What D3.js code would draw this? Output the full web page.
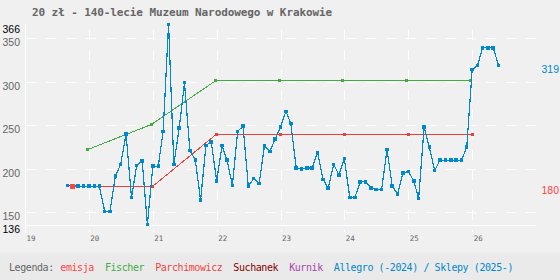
<!DOCTYPE html>
<html lang="pl">
<head>
<meta charset="UTF-8">
<title>20 zł - 140-lecie Muzeum Narodowego w Krakowie</title>
<style>
  body { margin: 0; background: #f0f0f0; }
  svg { display: block; }
  .mono { font-family: "DejaVu Sans Mono", monospace; }
  .sans { font-family: "Liberation Sans", Arial, sans-serif; }
</style>
</head>
<body>
<div id="chart"></div>
<script src="https://cdnjs.cloudflare.com/ajax/libs/d3/7.8.5/d3.min.js"></script>
<script>
const width = 560
const height = 280

const title = '20 zł - 140-lecie Muzeum Narodowego w Krakowie'

// Allegro / sklepy - ceny miesięczne od 2019-09
const allegroStart = '2019-09-01'
const allegro = [181, 181, 180, 180, 180, 180, 180, 151, 151, 192,
  205, 240, 167, 204, 209, 136, 203, 203, 243, 366,
  205, 247, 299, 221, 210, 164, 227, 231, 186, 227,
  210, 181, 243, 249, 180, 189, 183, 226, 220, 234,
  248, 266, 252, 201, 200, 201, 201, 219, 188, 178,
  205, 193, 212, 167, 167, 185, 185, 178, 176, 176,
  222, 180, 171, 195, 197, 186, 166, 248, 225, 198,
  210, 210, 210, 210, 210, 225, 314, 319, 339, 339,
  339, 319]

const emisjaDate = '2019-09-28'
const emisjaValue = 180

const parchDates = ['2019-09-28', '2021-01-01', '2022-01-01', '2023-01-01', '2024-01-01', '2025-01-01', '2026-01-01']
const parchValues = [180, 180, 240, 240, 240, 240, 240]

const fischerDates = ['2019-12-24', '2020-12-24', '2021-12-24', '2022-12-24', '2023-12-24', '2024-12-24', '2025-12-24']
const fischerValues = [222, 251, 301, 301, 301, 301, 301]

const yGrid = [150, 200, 250, 300, 350]
const yMin = 136
const yMax = 366
const xYears = [2019, 2020, 2021, 2022, 2023, 2024, 2025, 2026]

const legendItems = ['emisja', 'Fischer', 'Parchimowicz', 'Suchanek', 'Kurnik', 'Allegro (-2024) / Sklepy (2025-)']
const legendColors = ['#f44', '#4a4', '#e44', '#800', '#a4a', '#08c']

const colBlue = '#0088cc'
const colRed = '#e8403c'
const colGreen = '#44aa44'

const parse = d3.utcParse('%Y-%m-%d')

const x = d3.scaleUtc()
  .domain([Date.UTC(2019, 0, 1), Date.UTC(2027, 0, 1)])
  .range([25, 536])
const y = d3.scaleLinear()
  .domain([yMin, yMax])
  .range([224.5, 24.4])

const svg = d3.select('#chart').append('svg')
  .attr('width', width)
  .attr('height', height)

svg.append('rect').attr('width', width).attr('height', height).attr('fill', '#f0f0f0')
svg.append('rect').attr('y', 253).attr('width', width).attr('height', height - 253).attr('fill', '#eaeaea')

// tytuł
svg.append('text')
  .attr('class', 'mono')
  .attr('x', 32)
  .attr('y', 16)
  .attr('font-size', 11)
  .attr('font-weight', 'bold')
  .attr('letter-spacing', -0.1)
  .attr('fill', '#666')
  .text(title)

// siatka pozioma
const grid = svg.append('g').attr('shape-rendering', 'crispEdges')
grid.selectAll('line.h')
  .data(yGrid)
  .join('line')
  .attr('class', 'h')
  .attr('x1', x.range()[0] + 1)
  .attr('x2', x.range()[1])
  .attr('y1', d => Math.round(y(d)) + 0.5)
  .attr('y2', d => Math.round(y(d)) + 0.5)
  .attr('stroke', '#fff')
  .attr('stroke-dasharray', '10,10')

// siatka pionowa (lata)
grid.selectAll('line.v')
  .data(xYears.slice(1))
  .join('line')
  .attr('class', 'v')
  .attr('x1', d => Math.round(x(Date.UTC(d, 0, 1))) + 0.5)
  .attr('x2', d => Math.round(x(Date.UTC(d, 0, 1))) + 0.5)
  .attr('y1', 30)
  .attr('y2', 232)
  .attr('stroke', '#fff')
  .attr('stroke-dasharray', '10,10')

// osie
grid.append('line')
  .attr('x1', 25.5).attr('x2', 25.5)
  .attr('y1', 24).attr('y2', 233)
  .attr('stroke', '#fff')
grid.append('line')
  .attr('x1', 25).attr('x2', x.range()[1])
  .attr('y1', 225.5).attr('y2', 225.5)
  .attr('stroke', '#fff')

// etykiety osi Y
const yAxis = svg.append('g')
  .attr('transform', 'translate(20,0)')
  .call(d3.axisLeft(y).tickValues([yMin].concat(yGrid, [yMax])).tickSize(0).tickPadding(0))
yAxis.select('.domain').remove()
yAxis.selectAll('text')
  .attr('class', 'sans')
  .attr('font-size', 10.5)
  .attr('font-family', null)
  .attr('dy', 7.6)
  .attr('fill', d => (d === yMin || d === yMax) ? '#000' : '#666')

// etykiety osi X
const xAxis = svg.append('g')
  .attr('transform', 'translate(0,241)')
  .call(d3.axisBottom(x).tickValues(xYears.map(d => Date.UTC(d, 0, 1))).tickSize(0).tickPadding(0)
    .tickFormat(d => d3.utcFormat('%y')(d)))
xAxis.select('.domain').remove()
xAxis.selectAll('text')
  .attr('class', 'mono')
  .attr('font-family', null)
  .attr('font-size', 7.5)
  .attr('text-anchor', 'start')
  .attr('dx', 1)
  .attr('dy', 0)
  .attr('fill', '#666')

const line = d3.line()
  .x(d => x(d[0]))
  .y(d => y(d[1]))

const fischer = fischerDates.map((d, i) => [parse(d), fischerValues[i]])
const parch = parchDates.map((d, i) => [parse(d), parchValues[i]])
const start = parse(allegroStart)
const shop = allegro.map((v, i) => [d3.utcMonth.offset(start, i), v])

const series = [
  { data: fischer, color: colGreen, w: 1, size: 3 },
  { data: parch, color: colRed, w: 1, size: 3 },
  { data: shop, color: colBlue, w: 1.2, size: 3.5 }
]

series.forEach(s => {
  const g = svg.append('g').attr('shape-rendering', 'crispEdges')
  g.append('path')
    .datum(s.data)
    .attr('d', line)
    .attr('fill', 'none')
    .attr('stroke', s.color)
    .attr('stroke-width', s.w)
  g.selectAll('rect')
    .data(s.data)
    .join('rect')
    .attr('x', d => x(d[0]) - s.size / 2)
    .attr('y', d => y(d[1]) - s.size / 2)
    .attr('width', s.size)
    .attr('height', s.size)
    .attr('fill', s.color)
})

// emisja
svg.append('rect')
  .attr('shape-rendering', 'crispEdges')
  .attr('x', x(parse(emisjaDate)) - 2.5)
  .attr('y', y(emisjaValue) - 2)
  .attr('width', 5)
  .attr('height', 5)
  .attr('fill', '#f44')

// etykiety po prawej
const rightLabels = [
  { v: allegro[allegro.length - 1], c: colBlue },
  { v: emisjaValue, c: '#f44' }
]
svg.selectAll('text.right')
  .data(rightLabels)
  .join('text')
  .attr('class', 'right sans')
  .attr('x', 541.5)
  .attr('y', d => y(d.v) + 7.6)
  .attr('font-size', 10.5)
  .attr('fill', d => d.c)
  .text(d => d.v)

// legenda
const leg = svg.append('g').attr('class', 'mono').attr('font-size', 10).attr('letter-spacing', -0.42)
let lx = 9
const lt = leg.append('text').attr('x', lx).attr('y', 270.5).attr('fill', '#666').text('Legenda:')
lx += lt.node().getComputedTextLength() + 6.5
legendItems.forEach((name, i) => {
  const t = leg.append('text')
    .attr('x', lx)
    .attr('y', 270.5)
    .attr('fill', legendColors[i])
    .text(name)
  lx += t.node().getComputedTextLength() + 11
})
</script>
</body>
</html>
